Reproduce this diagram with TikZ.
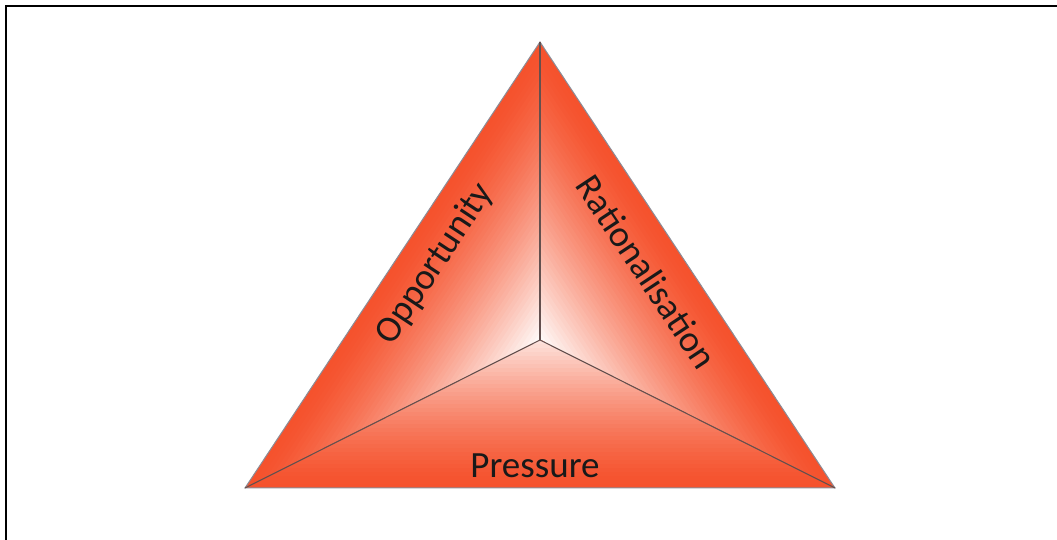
\documentclass[tikz,border=0pt]{standalone}
\usepackage{fontspec}
\setsansfont{Carlito}
\definecolor{tri}{RGB}{245,82,45}
\definecolor{edgegray}{RGB}{140,140,150}
\definecolor{innerline}{RGB}{100,80,78}
\tikzset{
  lbl/.style={font=\sffamily\fontsize{37}{42}\selectfont, text=black!90, inner sep=0pt},
  outeredge/.style={draw=edgegray, line width=1pt},
  innerseg/.style={draw=innerline, line width=1.1pt},
  framestyle/.style={draw=black, line width=2.5pt}
}
\begin{document}
\begin{tikzpicture}[x=1pt,y=1pt]
\useasboundingbox (0,0) rectangle (1057,540);
\coordinate (A) at (540,498);
\coordinate (L) at (245,52);
\coordinate (R) at (835,52);
\coordinate (C) at (540,200);
% left face
\begin{scope}
\clip (A) -- (L) -- (C) -- cycle;
\begin{scope}[shift={(L)}, rotate=56.52]
\foreach \i in {0,...,44} {
  \pgfmathsetmacro\t{min(96,100*(\i*4/165)^1.4)}
  \colorlet{cc}{white!\t!tri}
  \fill[cc] (-50,-\i*4) rectangle (700,-400);
}
\end{scope}
\end{scope}
% right face
\begin{scope}
\clip (A) -- (R) -- (C) -- cycle;
\begin{scope}[shift={(R)}, rotate=123.48]
\foreach \i in {0,...,44} {
  \pgfmathsetmacro\t{min(96,100*(\i*4/165)^1.4)}
  \colorlet{cc}{white!\t!tri}
  \fill[cc] (-50,\i*4) rectangle (700,400);
}
\end{scope}
\end{scope}
% bottom face
\begin{scope}
\clip (L) -- (R) -- (C) -- cycle;
\begin{scope}[shift={(L)}]
\foreach \i in {0,...,44} {
  \pgfmathsetmacro\t{min(96,100*(\i*4/165)^1.4)}
  \colorlet{cc}{white!\t!tri}
  \fill[cc] (-50,\i*4) rectangle (700,400);
}
\end{scope}
\end{scope}
\draw[outeredge] (A) -- (L) -- (R) -- cycle;
\draw[innerseg] (A) -- (C);
\draw[innerseg] (L) -- (C);
\draw[innerseg] (R) -- (C);
\node[lbl, rotate=56.52] (opp) at (435,276) {Opportunity};
\node[lbl, rotate=-56.52] (rat) at (647,268) {Rationalisation};
\node[lbl, anchor=base] (pre) at (535,62) {Pressure};
% frame
\coordinate (f1) at (6,-5);
\coordinate (f2) at (6,534);
\coordinate (f3) at (1062,534);
\draw[framestyle] (f1) -- (f2) -- (f3);
\end{tikzpicture}
\end{document}
